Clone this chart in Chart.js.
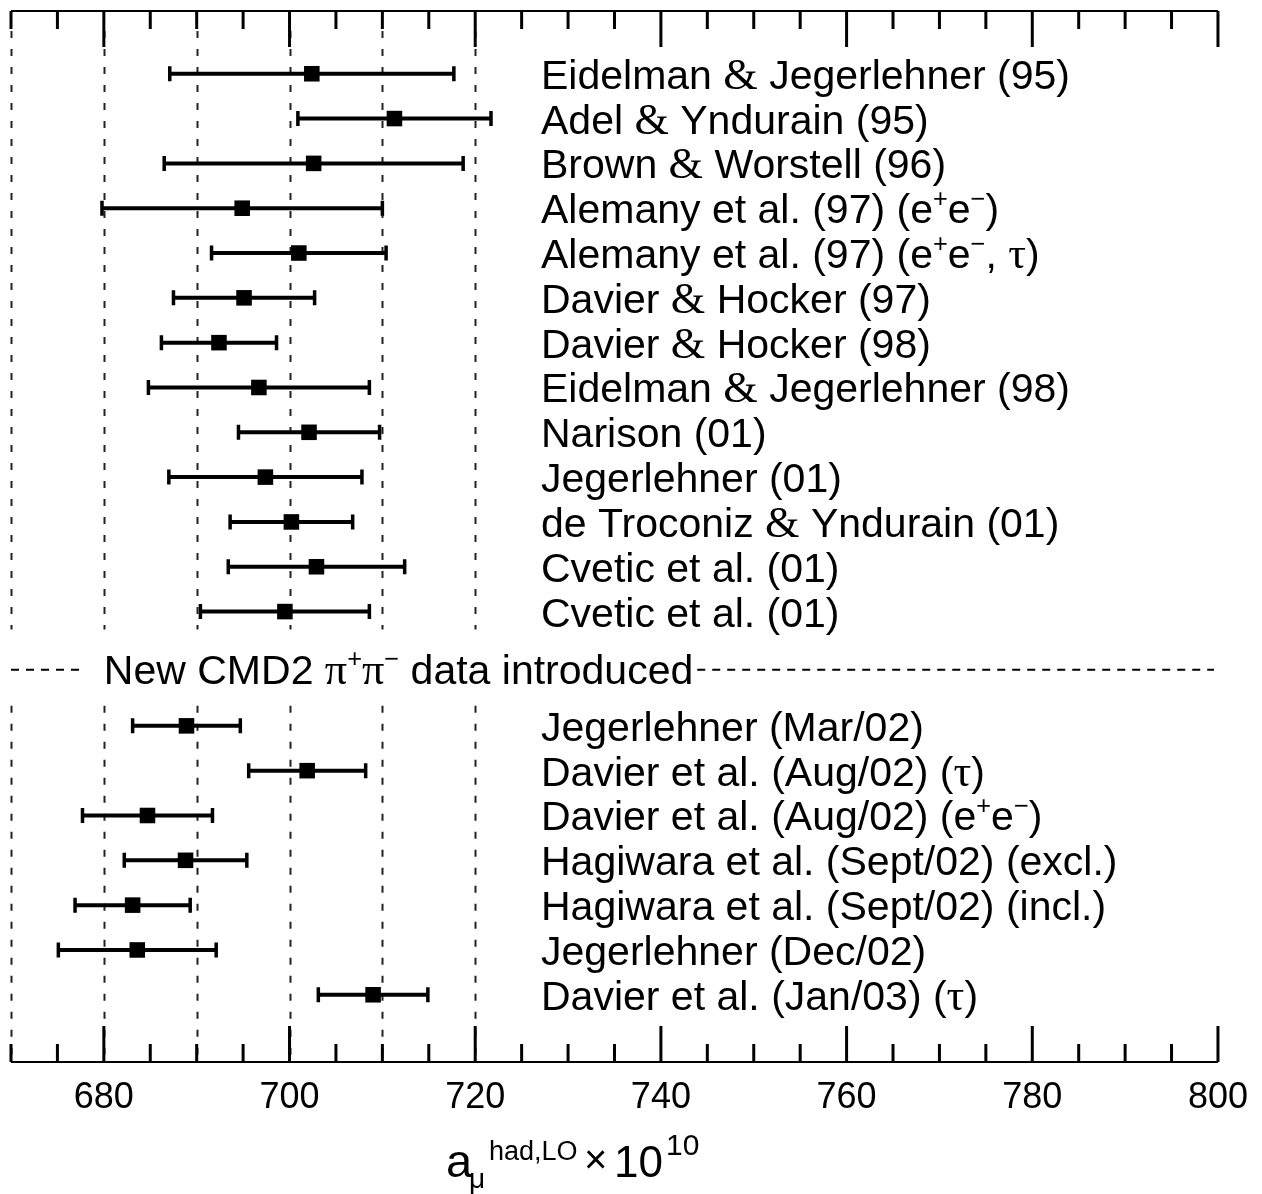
<!DOCTYPE html>
<html>
<head>
<meta charset="utf-8">
<script src="https://cdn.jsdelivr.net/npm/chart.js@4/dist/chart.umd.min.js"></script>
<style>html,body{margin:0;padding:0;background:#fff}</style>
</head>
<body>
<canvas id="graph" width="1262" height="1194"></canvas>
<script>
// Compilations of a_mu(had,LO) x 10^10, top to bottom
const labels = [
  "Eidelman & Jegerlehner (95)",
  "Adel & Yndurain (95)",
  "Brown & Worstell (96)",
  "Alemany et al. (97) (e^{+}e^{−})",
  "Alemany et al. (97) (e^{+}e^{−}, τ)",
  "Davier & Hocker (97)",
  "Davier & Hocker (98)",
  "Eidelman & Jegerlehner (98)",
  "Narison (01)",
  "Jegerlehner (01)",
  "de Troconiz & Yndurain (01)",
  "Cvetic et al. (01)",
  "Cvetic et al. (01)",
  "Jegerlehner (Mar/02)",
  "Davier et al. (Aug/02) (τ)",
  "Davier et al. (Aug/02) (e^{+}e^{−})",
  "Hagiwara et al. (Sept/02) (excl.)",
  "Hagiwara et al. (Sept/02) (incl.)",
  "Jegerlehner (Dec/02)",
  "Davier et al. (Jan/03) (τ)"
];
const centers = [702.4, 711.3, 702.6, 694.9, 701.0, 695.1, 692.4, 696.7, 702.1, 697.4, 700.2, 702.9, 699.5,
                 688.9, 701.9, 684.7, 688.8, 683.1, 683.6, 709.0];
const errors  = [15.3, 10.4, 16.1, 15.1, 9.4, 7.6, 6.2, 11.9, 7.6, 10.4, 6.6, 9.5, 9.1,
                 5.8, 6.3, 7.0, 6.6, 6.2, 8.5, 5.9];
// row index on the vertical axis (second group sits below the separator)
const rowPos = [0, 1, 2, 3, 4, 5, 6, 7, 8, 9, 10, 11, 12,
                14.55, 15.55, 16.55, 17.55, 18.55, 19.55, 20.55];
const separatorPos = 13.3;
const separatorText = "New CMD2 π^{+}π^{−} data introduced";
const tickValues = [680, 700, 720, 740, 760, 780, 800];
const gridValues = [670, 680, 690, 700, 710, 720];

const SANS = '"Liberation Sans", Arial, Helvetica, sans-serif';
const SERIF = '"Liberation Serif", "Times New Roman", serif';

function parseRich(s) {
  const out = [];
  let i = 0;
  while (i < s.length) {
    const c = s[i];
    if ((c === '^' || c === '_') && s[i + 1] === '{') {
      const j = s.indexOf('}', i);
      out.push({ t: s.slice(i + 2, j), k: c === '^' ? 'sup' : 'sub' });
      i = j + 1;
    } else if ('&πτ'.includes(c)) {
      out.push({ t: c, k: 'sym' });
      i++;
    } else {
      let j = i;
      while (j < s.length && !'^_&πτ'.includes(s[j])) j++;
      out.push({ t: s.slice(i, j), k: 'n' });
      i = j;
    }
  }
  return out;
}

function drawRich(ctx, s, x, y, size) {
  let cx = x;
  for (const p of parseRich(s)) {
    let f = size, dy = 0, fam = SANS;
    if (p.k === 'sup') { f = size * 0.62; dy = -size * 0.4; }
    if (p.k === 'sub') { f = size * 0.62; dy = size * 0.22; }
    if (p.k === 'sym') { fam = SERIF; f = size * 1.08; }
    ctx.font = f + 'px ' + fam;
    ctx.fillText(p.t, cx, y + dy);
    cx += ctx.measureText(p.t).width;
  }
  return cx - x;
}

const errorBars = {
  id: 'errorBars',
  beforeDatasetsDraw(chart) {
    const ctx = chart.ctx, xs = chart.scales.x, ys = chart.scales.y;
    const top = chart.chartArea.top, bottom = chart.chartArea.bottom;
    ctx.save();
    // dashed reference lines, broken around the separator
    ctx.strokeStyle = '#222';
    ctx.lineWidth = 2;
    ctx.setLineDash([7, 11]);
    const gapA = ys.getPixelForValue(12.4), gapB = ys.getPixelForValue(14.1);
    gridValues.forEach(v => {
      const px = Math.round(xs.getPixelForValue(v)) + 0.5;
      ctx.beginPath();
      ctx.moveTo(px, top + 20); ctx.lineTo(px, gapA);
      ctx.moveTo(px, gapB); ctx.lineTo(px, bottom);
      ctx.stroke();
    });
    ctx.setLineDash([]);
    // error bars
    ctx.strokeStyle = '#000';
    centers.forEach((c, i) => {
      const y = ys.getPixelForValue(rowPos[i]);
      const x1 = xs.getPixelForValue(c - errors[i]);
      const x2 = xs.getPixelForValue(c + errors[i]);
      ctx.lineWidth = 4;
      ctx.beginPath();
      ctx.moveTo(x1, y); ctx.lineTo(x2, y);
      ctx.stroke();
      ctx.lineWidth = 3.5;
      ctx.beginPath();
      ctx.moveTo(x1, y - 7.5); ctx.lineTo(x1, y + 7.5);
      ctx.moveTo(x2, y - 7.5); ctx.lineTo(x2, y + 7.5);
      ctx.stroke();
    });
    ctx.restore();
  },
  afterDraw(chart) {
    const ctx = chart.ctx, xs = chart.scales.x, ys = chart.scales.y;
    const { left, right, top, bottom } = chart.chartArea;
    ctx.save();
    ctx.fillStyle = '#000';
    ctx.strokeStyle = '#000';
    // top and bottom axes with ticks
    ctx.lineWidth = 2;
    ctx.beginPath();
    ctx.moveTo(left, top); ctx.lineTo(right, top);
    ctx.moveTo(left, bottom); ctx.lineTo(right, bottom);
    ctx.stroke();
    ctx.lineWidth = 3;
    for (let v = 670; v <= 800; v += 5) {
      const px = xs.getPixelForValue(v);
      const len = (v % 20 === 0) ? 36 : 18;
      ctx.beginPath();
      ctx.moveTo(px, top); ctx.lineTo(px, top + len);
      ctx.moveTo(px, bottom); ctx.lineTo(px, bottom - len);
      ctx.stroke();
    }
    // row labels
    ctx.textBaseline = 'alphabetic';
    ctx.textAlign = 'left';
    labels.forEach((s, i) => {
      drawRich(ctx, s, 541, ys.getPixelForValue(rowPos[i]) + 15, 41);
    });
    // separator
    const sy = ys.getPixelForValue(separatorPos);
    const tx = xs.getPixelForValue(680);
    const w = drawRich(ctx, separatorText, tx, sy + 14, 41);
    ctx.lineWidth = 2;
    ctx.setLineDash([8, 7]);
    ctx.beginPath();
    ctx.moveTo(left, sy); ctx.lineTo(tx - 18, sy);
    ctx.moveTo(tx + w + 4, sy); ctx.lineTo(right - 4, sy);
    ctx.stroke();
    ctx.setLineDash([]);
    // axis title a_mu^{had,LO} x 10^10
    const pieces = [
      ['a', 446, 1177, 47], ['μ', 469, 1188, 28], ['had,LO', 489, 1160, 27],
      ['×', 584, 1173, 40], ['10', 614, 1177, 44], ['10', 666, 1155, 30]
    ];
    pieces.forEach(([t, x, y, f]) => {
      ctx.font = f + 'px ' + SANS;
      ctx.fillText(t, x, y);
    });
    ctx.restore();
  }
};

new Chart(document.getElementById('graph'), {
  type: 'scatter',
  data: {
    datasets: [{
      data: centers.map((c, i) => ({ x: c, y: rowPos[i] })),
      pointStyle: 'rect',
      pointRadius: 11,
      pointHoverRadius: 11,
      backgroundColor: '#000',
      borderWidth: 0
    }]
  },
  options: {
    responsive: false,
    animation: false,
    events: [],
    layout: { padding: { left: 10, right: 43, top: 9, bottom: 0 } },
    plugins: { legend: { display: false }, tooltip: { enabled: false } },
    scales: {
      x: {
        type: 'linear',
        min: 670,
        max: 800,
        afterBuildTicks: s => { s.ticks = tickValues.map(v => ({ value: v })); },
        afterFit: s => { s.height = 132; },
        grid: { display: false, drawTicks: false },
        border: { display: false },
        ticks: { color: '#000', padding: 14, font: { family: SANS, size: 36 } }
      },
      y: {
        type: 'linear',
        reverse: true,
        min: -1.4,
        max: 22.05,
        display: false
      }
    }
  },
  plugins: [errorBars]
});
</script>
</body>
</html>
